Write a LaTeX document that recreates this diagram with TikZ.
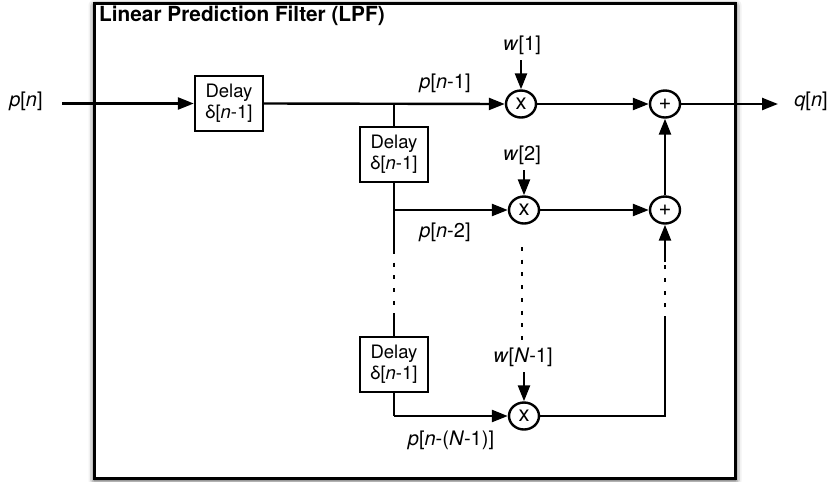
\documentclass[tikz,border=0pt]{standalone}
\usepackage{fontspec}
\setmainfont{TeX Gyre Heros}
\usetikzlibrary{arrows.meta,shapes.geometric,shadows.blur}

\newcommand{\vi}[1]{\textit{#1}}

\tikzset{
  wire/.style={line width=2.4pt},
  sig/.style={wire,-{Triangle[length=16pt,width=12pt]}},
  gap/.style={wire,dash pattern=on 4pt off 8.7pt},
  delaybox/.style={draw,line width=2.4pt,rectangle,minimum width=68pt,minimum height=55pt,
    inner sep=0pt,align=center,font=\fontsize{18.5}{21}\selectfont},
  opnode/.style={draw,line width=2.4pt,ellipse,minimum width=30pt,minimum height=27pt,
    inner sep=0pt,font=\fontsize{22}{24}\selectfont},
  lbl/.style={inner sep=0pt,font=\fontsize{20}{22}\selectfont},
  frame/.style={draw,line width=3pt,fill=white,
    blur shadow={shadow xshift=0pt,shadow yshift=-2.5pt,shadow blur radius=6pt,shadow opacity=80}}
}

\begin{document}
\begin{tikzpicture}[x=1pt,y=-1pt]
\useasboundingbox (0,0) rectangle (831,482);

% enclosing filter block
\node[frame,minimum width=641pt,minimum height=475pt,inner sep=0pt,anchor=north west] (lpf) at (93,1.5) {};
\node[anchor=base west,inner sep=0pt,font=\fontsize{20.8}{23}\selectfont\bfseries] (title) at (99,21) {Linear Prediction Filter (LPF)};

% delay chain
\node[delaybox] (d1) at (229,103.5) {Delay\\δ[\vi{n}-1]};
\node[delaybox] (d2) at (394,154.5) {Delay\\δ[\vi{n}-1]};
\node[delaybox] (d3) at (394,364.5) {Delay\\δ[\vi{n}-1]};

% multipliers and adders
\node[opnode] (m1) at (521,104) {x};
\node[opnode] (m2) at (524,210) {x};
\node[opnode] (m3) at (524,416) {x};
\node[opnode] (a1) at (665,104) {+};
\node[opnode] (a2) at (665,210) {+};

% signal labels
\node[lbl] (pin) at (26,101) {\vi{p}[\vi{n}]};
\node[lbl] (qout) at (811,101) {\vi{q}[\vi{n}]};
\node[lbl] (w1) at (522,45) {\vi{w}[1]};
\node[lbl] (w2) at (522,155) {\vi{w}[2]};
\node[lbl] (wN) at (523,357) {\vi{w}[\vi{N}-1]};
\node[lbl] (p1) at (445,83) {\vi{p}[\vi{n}-1]};
\node[lbl] (p2) at (445,232) {\vi{p}[\vi{n}-2]};
\node[lbl] (pN) at (451,440) {\vi{p}[\vi{n}-(\vi{N}-1)]};

% helper points
\coordinate (in0) at (62,103.5);
\coordinate (out1) at (778,104);
\coordinate (j1) at (394,104);
\coordinate (j2) at (394,210);
\coordinate (j3) at (394,416);
\coordinate (l1) at (394,250);
\coordinate (l2) at (394,313);
\coordinate (c1) at (522,247);
\coordinate (c2) at (522,340);
\coordinate (r1) at (665,262);
\coordinate (r2) at (665,320);
\coordinate (r3) at (665,416);
\coordinate (w1t) at (521,60);
\coordinate (w2t) at (524,170);
\coordinate (wNt) at (524,372);

% main path
\draw[sig] (in0) -- (d1.west);
\draw[sig] (d1.east) -- (m1.west);
\draw[sig] (m1.east) -- (a1.west);
\draw[sig] (a1.east) -- (out1);

% tap 2
\draw[wire] (j1) -- (d2.north);
\draw[wire] (d2.south) -- (l1);
\draw[sig] (j2) -- (m2.west);
\draw[sig] (m2.east) -- (a2.west);
\draw[sig] (a2.north) -- (a1.south);

% elided taps
\draw[gap] (l1) -- (l2);
\draw[wire] (l2) -- (d3.north);
\draw[gap] (c1) -- (c2);
\draw[gap] (r2) -- (r1);
\draw[sig] (r1) -- (a2.south);

% last tap
\draw[wire] (d3.south) -- (j3);
\draw[sig] (j3) -- (m3.west);
\draw[wire] (m3.east) -- (r3) -- (r2);

% weights
\draw[sig] (w1t) -- (m1.north);
\draw[sig] (w2t) -- (m2.north);
\draw[sig] (wNt) -- (m3.north);
\end{tikzpicture}
\end{document}
